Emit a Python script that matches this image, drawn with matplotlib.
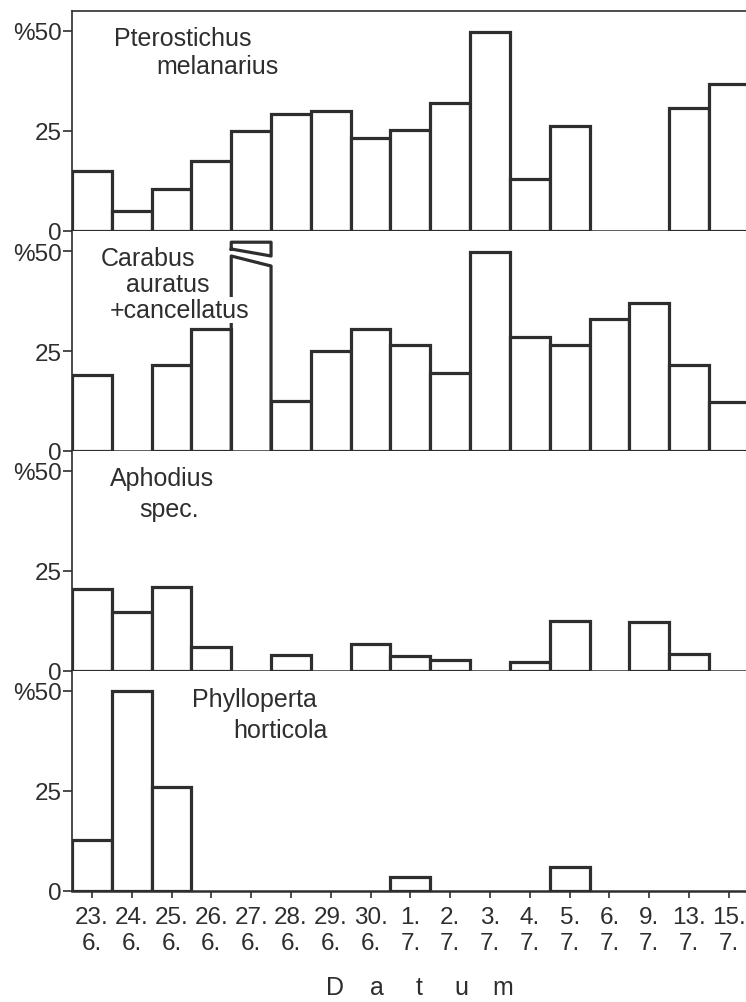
import numpy as np
import matplotlib
matplotlib.use('Agg')
import matplotlib.pyplot as plt

# dates (day. / month.)
days = ['23.', '24.', '25.', '26.', '27.', '28.', '29.', '30.', '1.', '2.',
        '3.', '4.', '5.', '6.', '9.', '13.', '15.']
months = ['6.'] * 8 + ['7.'] * 9

# percent per date
pterostichus = [15.0, 5.0, 10.5, 17.5, 25.0, 29.3, 30.0, 23.3, 25.2, 32.0,
                49.7, 13.0, 26.2, 0, 0, 30.8, 36.7]
carabus = [18.9, 0, 21.5, 30.4, 52.2, 12.5, 25.0, 30.6, 26.5, 19.4,
           49.8, 28.6, 26.5, 33.1, 37.0, 21.5, 12.3]
aphodius = [20.5, 14.8, 21.0, 5.9, 0, 4.0, 0, 6.8, 3.8, 2.8,
            0, 2.3, 12.6, 0, 12.2, 4.2, 0]
phylloperta = [12.8, 50.0, 26.1, 0, 0, 0, 0, 0, 3.5, 0,
               0, 0, 5.9, 0, 0, 0, 0]

# bars that run off the scale (drawn with a break mark)
carabus_broken = [4]

panels = [
    (pterostichus, [], [('Pterostichus', 0.062, 0.877), ('melanarius', 0.125, 0.75)]),
    (carabus, carabus_broken, [('Carabus', 0.042, 0.877), ('auratus', 0.08, 0.759),
                               ('+cancellatus', 0.056, 0.641)]),
    (aphodius, [], [('Aphodius', 0.056, 0.877), ('spec.', 0.1, 0.736)]),
    (phylloperta, [], [('Phylloperta', 0.178, 0.873), ('horticola', 0.239, 0.732)]),
]

W, H = 746, 1003
ink = '#2e2e2e'
font = ['Liberation Sans', 'DejaVu Sans']

fig = plt.figure(figsize=(W / 100, H / 100), dpi=100)

x = np.arange(len(days))
for i, (vals, broken, names) in enumerate(panels):
    zero = 232 + 220 * i
    ax = fig.add_axes([72 / W, 1 - zero / H, 1 - 72 / W, 220 / H])
    ax.set_xlim(-0.5, 16.43)
    ax.set_ylim(0, 55)

    vals = np.array(vals, dtype=float)
    ok = [j for j in range(len(vals)) if vals[j] > 0 and j not in broken]
    ax.bar(x[ok], vals[ok], width=1.0, facecolor='white', edgecolor=ink,
           linewidth=2.3, zorder=2)

    # broken bar: lower part, gap, cap above 50
    for j in broken:
        l, r = j - 0.5, j + 0.5
        lo_l, lo_r = 48.75, 46.25
        up_l, up_r = 50.5, 48.75
        ax.plot([l, l, r, r], [0, lo_l, lo_r, 0], color=ink, lw=2.3,
                solid_joinstyle='round', zorder=2)
        ax.plot([l, l, r, r, l], [up_l, vals[j], vals[j], up_r, up_l], color=ink,
                lw=2.3, solid_joinstyle='round', zorder=2, clip_on=False)

    ax.spines['right'].set_visible(False)
    ax.spines['top'].set_visible(i == 0)
    ax.spines['top'].set_linewidth(1.2)
    ax.spines['left'].set_linewidth(1.2)
    ax.spines['bottom'].set_linewidth(1.8)
    for s in ax.spines.values():
        s.set_color(ink)
        s.set_zorder(3)

    ax.set_yticks([0, 25, 50])
    ax.set_yticklabels(['0', '25', '%50'], family=font, fontsize=17.5)
    ax.tick_params(axis='y', direction='out', length=6.5, width=1.2,
                   colors=ink, pad=1)

    ax.set_xticks(x)
    if i == 3:
        ax.set_xticklabels([d + '\n' + m for d, m in zip(days, months)],
                           family=font, fontsize=17.5, linespacing=1.2)
        ax.tick_params(axis='x', direction='out', length=5, width=1.2,
                       colors=ink, pad=6)
    else:
        ax.set_xticklabels([])
        ax.tick_params(axis='x', length=0)

    for txt, tx, ty in names:
        ax.text(tx, ty, txt, transform=ax.transAxes, family=font, fontsize=18,
                color=ink, va='center', ha='left', zorder=4,
                bbox=dict(facecolor='white', edgecolor='none', pad=0.5))

# spaced axis title
for k, ch in enumerate('Datum'):
    fig.text((335 + 42 * k) / W, 1 - 988 / H, ch, family=font, fontsize=18,
             color=ink, ha='center', va='center')

fig.savefig('out.png', dpi=100)
